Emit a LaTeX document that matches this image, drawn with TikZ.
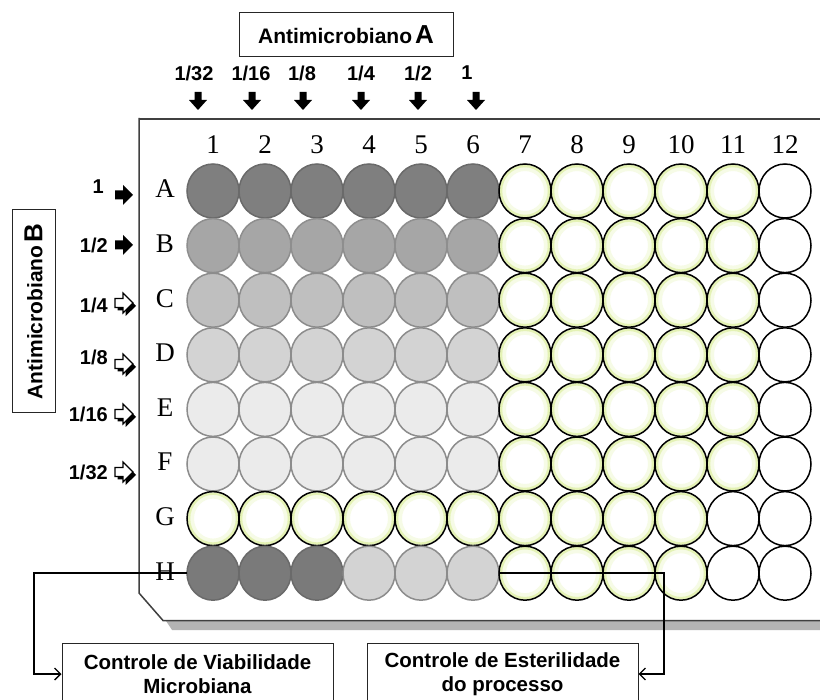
\documentclass[tikz,border=0pt]{standalone}
\usepackage{fontspec}
\setmainfont{Liberation Serif}
\setsansfont{Liberation Sans}
\usetikzlibrary{shapes.geometric, arrows.meta}
\definecolor{glowout}{HTML}{E4F2B4}
\definecolor{glowin}{HTML}{F6FBE6}
\definecolor{fA}{HTML}{7F7F7F}
\definecolor{dA}{HTML}{6A6A6A}
\definecolor{fB}{HTML}{A6A6A6}
\definecolor{dB}{HTML}{8E8E8E}
\definecolor{fC}{HTML}{BFBFBF}
\definecolor{dC}{HTML}{8C8C8C}
\definecolor{fD}{HTML}{D3D3D3}
\definecolor{fE}{HTML}{EBEBEB}
\definecolor{fH}{HTML}{7A7A7A}
\definecolor{platec}{HTML}{404040}
\definecolor{shadowc}{HTML}{B4B4B4}
\begin{document}
\begin{tikzpicture}[x=1pt,y=-1pt,
  wellbase/.style={ellipse, minimum width=52pt, minimum height=54pt, inner sep=0pt, outer sep=0pt, line width=1.5pt},
  wellgray/.style 2 args={wellbase, fill=#1, draw=#2},
  wellglow/.style={wellbase, fill=white, draw=black, path picture={
     \draw[glowin, line width=4pt] (path picture bounding box.center) ellipse [x radius=21pt, y radius=22pt];
     \draw[glowout, line width=2.5pt] (path picture bounding box.center) ellipse [x radius=24pt, y radius=25pt];}},
  wellplain/.style={wellbase, fill=white, draw=black},
  rowlab/.style={font=\fontsize{27}{30}\selectfont, inner sep=0pt},
  collab/.style={font=\fontsize{27}{30}\selectfont, inner sep=0pt},
  frac/.style={font=\fontsize{20}{23}\selectfont\sffamily\bfseries, inner sep=0pt},
  labbox/.style={draw=black!85, line width=1pt, fill=white, inner sep=0pt, font=\sffamily\bfseries},
  conn/.style={draw=black, line width=1.4pt, -{Straight Barb[length=6pt,width=12pt,line width=1.4pt]}},
  downarr/.pic={\fill[black] (-3.5,0) -- (3.5,0) -- (3.5,8) -- (9,8) -- (0,18) -- (-9,8) -- (-3.5,8) -- cycle;},
  rightarr/.pic={\fill[black] (0,-4.5) -- (8,-4.5) -- (8,-10) -- (18,0) -- (8,10) -- (8,4.5) -- (0,4.5) -- cycle;},
  rightarrw/.pic={\fill[black] (2.5,-2) -- (10.5,-2) -- (10.5,-7.5) -- (21,3) -- (10.5,13) -- (10.5,7.5) -- (2.5,7.5) -- cycle;
     \draw[black, fill=white, line width=1.2pt, line join=miter] (0,-4.5) -- (8,-4.5) -- (8,-10) -- (18,0) -- (8,10) -- (8,4.5) -- (0,4.5) -- cycle;}
]
\path[use as bounding box, clip] (0,0) rectangle (820,700);
\fill[white] (0,0) rectangle (820,700);

% plate
\fill[shadowc] (166,621) -- (820,621) -- (820,630) -- (172,630) -- cycle;
\draw[platec, line width=2.4pt] (822,119) -- (139,119);
\draw[platec, line width=1.5pt] (139,118) -- (139,593) -- (163,620.5) -- (822,620.5);

% column labels
\foreach \c in {1,...,12}
  \node[collab] (c\c) at ({213+52*(\c-1)},145) {\c};

% row labels
\foreach \r [count=\i] in {A,B,C,D,E,F,G,H}
  \node[rowlab] (l\r) at (165,{189+54.6*(\i-1)}) {\r};

% rows A-F
\foreach \r/\fc/\dc [count=\i] in {A/fA/dA, B/fB/dB, C/fC/dC, D/fD/dC, E/fE/dC, F/fE/dC}{
  \foreach \c in {1,...,6}
    \node[wellgray={\fc}{\dc}] (w\r\c) at ({213+52*(\c-1)},{191+54.6*(\i-1)}) {};
  \foreach \c in {7,...,11}
    \node[wellglow] (w\r\c) at ({213+52*(\c-1)},{191+54.6*(\i-1)}) {};
  \node[wellplain] (w\r12) at (785,{191+54.6*(\i-1)}) {};
}
% row G
\foreach \c in {1,...,10}
  \node[wellglow] (wG\c) at ({213+52*(\c-1)},518.6) {};
\foreach \c in {11,12}
  \node[wellplain] (wG\c) at ({213+52*(\c-1)},518.6) {};
% row H
\foreach \c in {1,2,3}
  \node[wellgray={fH}{dA}] (wH\c) at ({213+52*(\c-1)},573.2) {};
\foreach \c in {4,5,6}
  \node[wellgray={fD}{dC}] (wH\c) at ({213+52*(\c-1)},573.2) {};
\foreach \c in {7,...,10}
  \node[wellglow] (wH\c) at ({213+52*(\c-1)},573.2) {};
\foreach \c in {11,12}
  \node[wellplain] (wH\c) at ({213+52*(\c-1)},573.2) {};

% Antimicrobiano A
\node[labbox, minimum width=214pt, minimum height=44pt] (boxA) at (346,35)
  {{\fontsize{21}{25}\selectfont Antimicrobiano}\hspace{3pt}{\fontsize{26}{30}\selectfont A}};
\node[frac] (tA1) at (194,73) {1/32};
\node[frac] (tA2) at (251,73) {1/16};
\node[frac] (tA3) at (302,73) {1/8};
\node[frac] (tA4) at (361,73) {1/4};
\node[frac] (tA5) at (418,73) {1/2};
\node[frac] (tA6) at (467,73) {1};
\pic at (198,92) {downarr};
\pic at (252,92) {downarr};
\pic at (303,92) {downarr};
\pic at (361,92) {downarr};
\pic at (418,92) {downarr};
\pic at (476,92) {downarr};

% Antimicrobiano B
\node[labbox, rotate=90, minimum width=203pt, minimum height=43pt] (boxB) at (33.5,311.5)
  {{\fontsize{21}{25}\selectfont Antimicrobiano}\hspace{3pt}{\fontsize{26}{30}\selectfont B}};
\node[frac, anchor=east] (tB1) at (104,187) {1};
\node[frac, anchor=east] (tB2) at (108,245) {1/2};
\node[frac, anchor=east] (tB3) at (108,305) {1/4};
\node[frac, anchor=east] (tB4) at (108,357) {1/8};
\node[frac, anchor=east] (tB5) at (108,414) {1/16};
\node[frac, anchor=east] (tB6) at (108,472) {1/32};
\pic at (115,195) {rightarr};
\pic at (115,245) {rightarr};
\pic at (115,303) {rightarrw};
\pic at (115,364) {rightarrw};
\pic at (115,414) {rightarrw};
\pic at (115,472) {rightarrw};

% control boxes
\node[labbox, minimum width=271pt, minimum height=62pt, align=center,
      font=\sffamily\bfseries\fontsize{20.5}{24}\selectfont] (box1) at (197.5,674)
  {Controle de Viabilidade\\Microbiana};
\node[labbox, minimum width=271pt, minimum height=62pt, align=center,
      font=\sffamily\bfseries\fontsize{20.5}{24}\selectfont] (box2) at (502.5,674)
  {Controle de Esterilidade\\do processo};

% connectors
\draw[conn] (wH1.west) -- ++(-153,0) |- (box1.west);
\draw[conn] (wH6.east) -- ++(165,0) |- (box2.east);
\end{tikzpicture}
\end{document}
